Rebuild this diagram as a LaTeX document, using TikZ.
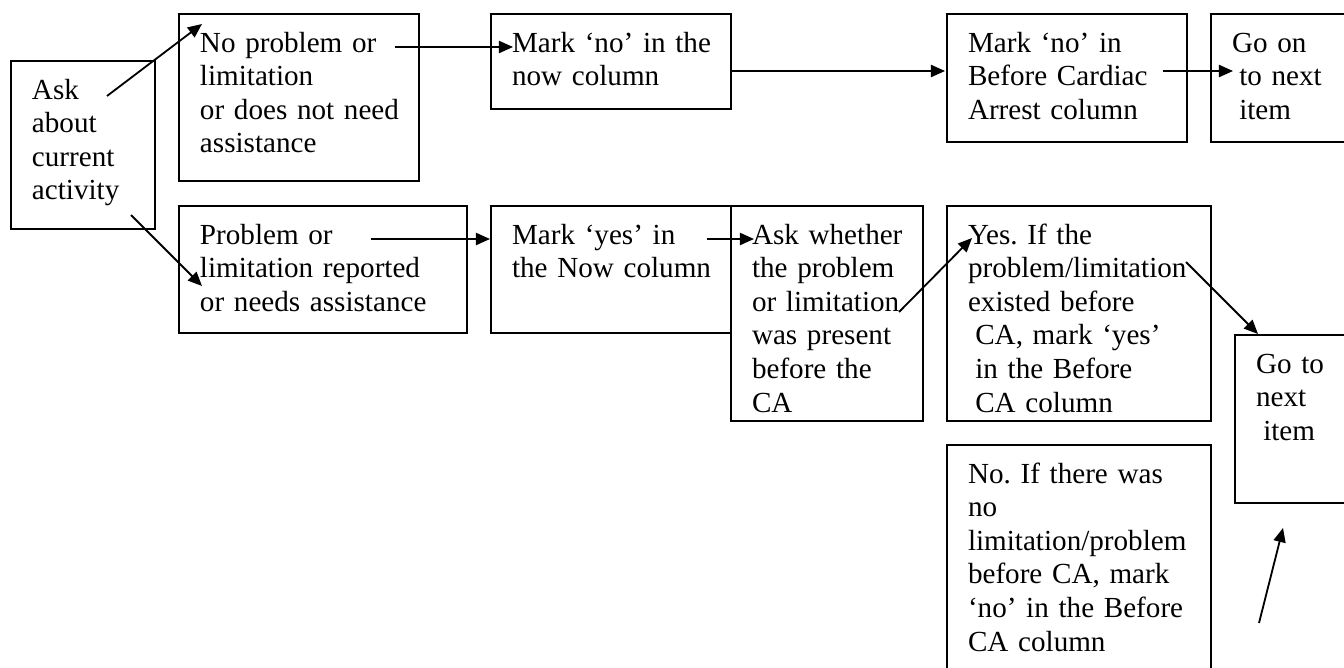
\documentclass[tikz,border=0pt]{standalone}
\usepackage{fontspec}
\setmainfont{Liberation Serif}[WordSpace=0.75]
\usepackage{tikz}
\usetikzlibrary{arrows.meta}

% one unbreakable block of lines
\newcommand{\lines}[1]{\begin{tabular}[t]{@{}l@{}}#1\end{tabular}}

\begin{document}
\begin{tikzpicture}[>={Triangle[length=5.8pt, width=5pt]}, x=0.412pt, y=-0.412pt]
                \tikzstyle{format} = [draw, line width=0.9pt, anchor=north west, align=left, outer sep=0pt, inner xsep=8.65pt, inner ysep=6pt, text height=9.69pt, font=\fontsize{12pt}{13.84pt}\selectfont\frenchspacing]
                \useasboundingbox (0,0) rectangle (1344,667);
                \clip (0,0) rectangle (1344,667);
                        \begin{scope}
                                \path
                                node[format, text width=41.9pt, text depth=47.5pt] (ask) at (11,61) {\lines{Ask\\about\\current\\activity}}
                                node[format, text width=81.5pt, text depth=47.1pt] (noprob) at (179,14) {\lines{No problem or\\limitation\\or does not need\\assistance}}
                                node[format, text width=101.3pt, text depth=30.6pt] (prob) at (179,206) {\lines{Problem or\\limitation reported\\or needs assistance}}
                                node[format, text width=81.5pt, text depth=17.5pt] (marknow) at (491,14) {\lines{Mark ‘no’ in the\\now column}}
                                node[format, text width=81.5pt, text depth=30.6pt] (markyes) at (491,206) {\lines{Mark ‘yes’ in\\the Now column}}
                                node[format, text width=61.7pt, text depth=66.9pt] (askwhether) at (731,206) {\lines{Ask whether\\the problem\\or limitation\\was present\\before the\\CA}}
                                node[format, text width=81.5pt, text depth=31.0pt] (markbefore) at (947,14) {\lines{Mark ‘no’ in\\Before Cardiac\\Arrest column}}
                                node[format, text width=41.9pt, text depth=31.0pt] (goon) at (1211,14) {\lines{Go on\\\hspace*{3pt}to next\\\hspace*{3pt}item}}
                                node[format, text width=91.4pt, text depth=66.9pt] (yes) at (947,206) {\lines{Yes. If the\\problem/limitation\\existed before\\\hspace*{3pt}CA, mark ‘yes’\\\hspace*{3pt}in the Before\\\hspace*{3pt}CA column}}
                                node[format, text width=41.9pt, text depth=47.5pt] (goto) at (1235,335) {\lines{Go to\\next\\\hspace*{3pt}item}}
                                node[format, text width=91.4pt, text depth=79.2pt] (no) at (947,445) {\lines{No. If there was\\no\\limitation/problem\\before CA, mark\\‘no’ in the Before\\CA column}}

                                % Arrow ends inside the boxes
                                coordinate (askup) at (107,96)
                                coordinate (noprobin) at (202,24)
                                coordinate (askdown) at (131,215)
                                coordinate (probin) at (202,286)
                                coordinate (noprobout) at (395,47)
                                coordinate (marknowin) at (513,47)
                                coordinate (probout) at (371,239)
                                coordinate (markyesin) at (490,239)
                                coordinate (marknowout) at (731,71)
                                coordinate (markbeforein) at (945,71)
                                coordinate (markbeforeout) at (1163,71)
                                coordinate (goonin) at (1233,71)
                                coordinate (markyesout) at (707,239)
                                coordinate (askwhetherin) at (754,239)
                                coordinate (askwhetherout) at (899,312)
                                coordinate (yesin) at (972,238)
                                coordinate (yesout) at (1186,262)
                                coordinate (gotoin) at (1258,334)
                                coordinate (notail) at (1259,623)
                                coordinate (nohead) at (1283,528)
                                ;

                                \path[->, line width=0.75pt]
                                % Current activity
                                (askup) edge (noprobin)
                                (askdown) edge (probin)

                                % No problem branch
                                (noprobout) edge (marknowin)
                                (marknowout) edge (markbeforein)
                                (markbeforeout) edge (goonin)

                                % Problem branch
                                (probout) edge (markyesin)
                                (markyesout) edge (askwhetherin)
                                (askwhetherout) edge (yesin)
                                (yesout) edge (gotoin)
                                (notail) edge (nohead)
                                ;
                        \end{scope}
\end{tikzpicture}
\end{document}
